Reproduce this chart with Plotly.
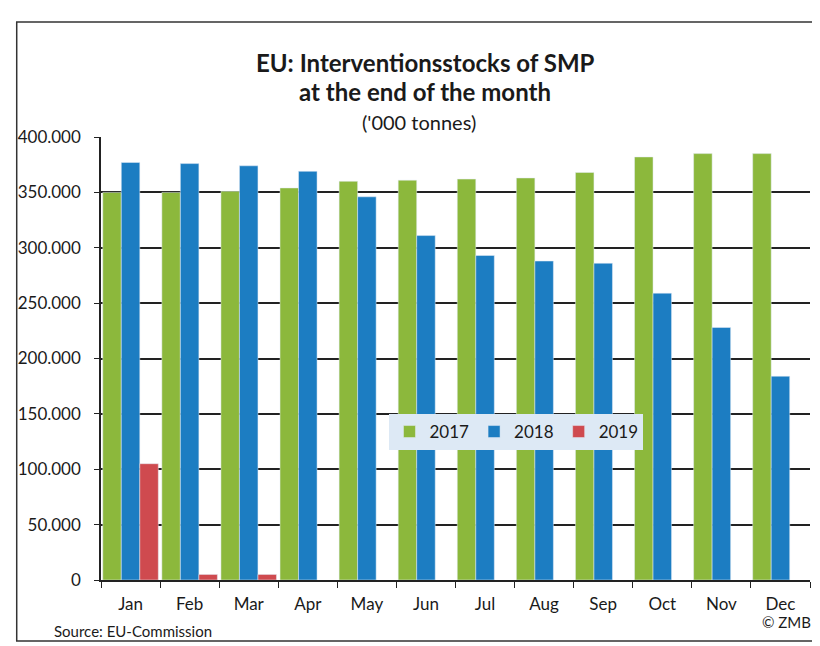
import plotly.graph_objects as go

months = ["Jan", "Feb", "Mar", "Apr", "May", "Jun", "Jul", "Aug", "Sep", "Oct", "Nov", "Dec"]
stocks_2017 = [350, 350, 351, 354, 360, 361, 362, 363, 368, 382, 385, 385]
stocks_2018 = [377, 376, 374, 369, 346, 311, 293, 288, 286, 259, 228, 184]
stocks_2019 = [105, 5, 5]
y_ticks = [0, 50, 100, 150, 200, 250, 300, 350, 400]

FONT = "Lato"
# page body has an 8px margin: plot area spans window x 95..810, y 137..580
X0, X1, Y0, Y1 = 95, 810, 137, 580


def px(x):
    return (x - X0) / (X1 - X0)


def py(y):
    return (Y1 - y) / (Y1 - Y0)


fig = go.Figure()
fig.add_bar(x=months, y=[v * 1000 for v in stocks_2017], name="2017", marker_color="#8cb83c")
fig.add_bar(x=months, y=[v * 1000 for v in stocks_2018], name="2018", marker_color="#1c7dc2")
fig.add_bar(x=months[:len(stocks_2019)], y=[v * 1000 for v in stocks_2019], name="2019", marker_color="#cf4a4f")

W, H = 812, 638
fig.update_layout(
    width=W, height=H,
    margin=dict(l=X0 - 8, r=W - (X1 - 8), t=Y0 - 8, b=H - (Y1 - 8)),
    paper_bgcolor="white", plot_bgcolor="white",
    separators=",.",
    barmode="group", bargap=0.06, bargroupgap=0,
    font=dict(family=FONT, color="#1a1a1a", size=16),
    showlegend=True,
    legend=dict(orientation="h", x=px(514), y=py(432), xanchor="center", yanchor="middle",
                bgcolor="#dde9f5", font=dict(size=17, family=FONT), itemwidth=30,
                traceorder="normal"),
)
fig.update_xaxes(type="category", categoryorder="array", categoryarray=months,
                 showline=True, linecolor="#222", linewidth=1.5,
                 ticks="outside", tickson="boundaries", ticklen=6, tickcolor="#222",
                 tickfont=dict(size=17, family=FONT), ticklabelstandoff=8, showgrid=False)
fig.update_yaxes(range=[0, 400000], tickvals=[v * 1000 for v in y_ticks], tickformat=",d",
                 showline=True, linecolor="#222", linewidth=1.5,
                 ticks="outside", ticklen=5, tickcolor="#222",
                 showgrid=True, gridcolor="#222", gridwidth=1.5,
                 tickfont=dict(size=17, family=FONT), ticklabelstandoff=10, zeroline=False)

fig.add_annotation(text="<b>EU: Interventionsstocks of SMP</b>", xref="paper", yref="paper",
                   x=px(422), y=py(62), showarrow=False,
                   font=dict(size=24, family=FONT), xanchor="center", yanchor="middle")
fig.add_annotation(text="<b>at the end of the month</b>", xref="paper", yref="paper",
                   x=px(422), y=py(92), showarrow=False,
                   font=dict(size=24, family=FONT), xanchor="center", yanchor="middle")
fig.add_annotation(text="('000 tonnes)", xref="paper", yref="paper",
                   x=px(416), y=py(122), showarrow=False,
                   font=dict(size=20, family=FONT), xanchor="center", yanchor="middle")
fig.add_annotation(text="Source: EU-Commission", xref="paper", yref="paper",
                   x=px(46), y=py(631), showarrow=False,
                   font=dict(size=15, family=FONT), xanchor="left", yanchor="middle")
fig.add_annotation(text="© ZMB", xref="paper", yref="paper",
                   x=px(813), y=py(622), showarrow=False,
                   font=dict(size=15, family=FONT), xanchor="right", yanchor="middle")
fig.add_shape(type="rect", xref="paper", yref="paper",
              x0=px(10), x1=px(830), y0=py(641), y1=py(22),
              line=dict(color="#333", width=1.5), fillcolor="rgba(0,0,0,0)", layer="below")

fig.write_html("out.html")
